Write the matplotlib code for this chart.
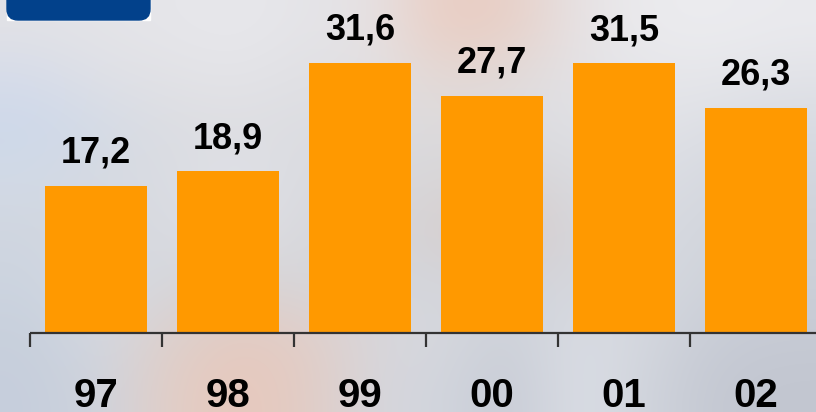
import numpy as np
import matplotlib.pyplot as plt
from matplotlib.patches import FancyBboxPatch, Rectangle
from matplotlib.colors import to_rgb

years = ['97', '98', '99', '00', '01', '02']
values = [17.2, 18.9, 31.6, 27.7, 31.5, 26.3]
value_labels = ['17,2', '18,9', '31,6', '27,7', '31,5', '26,3']

plt.rcParams['font.family'] = ['Liberation Sans', 'DejaVu Sans']

fig = plt.figure(figsize=(8.16, 4.12), dpi=100)
ax = fig.add_axes([0, 0, 1, 1])

# axis limits chosen so the plot fills the whole picture like the slide
x0, x1 = -96 / 132, (816 - 96) / 132
y0, y1 = -(412 - 333) / 8.56, 333 / 8.56
ax.set_xlim(x0, x1)
ax.set_ylim(y0, y1)
ax.axis('off')

# soft blurred background (stand-in for the photo behind the chart)
bg = [
    ['#e2e2e6', '#e4e4e8', '#e6e6ea', '#e8e8ec', '#e4e4e8', '#e6e2e4', '#eacdc2', '#e8cfc6', '#e6e2e4', '#ebebee', '#ececef', '#eaeaee'],
    ['#d6dcea', '#dfe0e6', '#e2e2e6', '#e4e4e8', '#e0e0e4', '#e2e0e2', '#e4d8d4', '#e2dad8', '#e2e2e6', '#e6e6ea', '#e6e7eb', '#e2e3e8'],
    ['#cdd8ea', '#d4dbe6', '#dcdde2', '#dedee2', '#dcdde2', '#dcdce0', '#dcdadc', '#dcdce0', '#dedfe4', '#e2e3e8', '#dcdee4', '#d8dbe2'],
    ['#d2dae6', '#d6dae2', '#dadce2', '#e0e2e8', '#dadbe0', '#d8d8dc', '#d8d6d8', '#d8d4d4', '#d8d9de', '#dcdee4', '#d6d9e0', '#d2d6de'],
    ['#d0d6e0', '#d6d8de', '#d8dae0', '#dfe0e6', '#d8d8dc', '#d6d6da', '#d6d0d0', '#dac8c4', '#d4d6dc', '#d8dbe2', '#d2d5dc', '#ced2da'],
    ['#ccd4e0', '#d8dce4', '#d4d6dc', '#d8d4d4', '#d6d6da', '#d4d6dc', '#d4d6dc', '#d2d4da', '#d4d6dc', '#d6d9e0', '#cfd3da', '#ccd0d8'],
    ['#c8d0dc', '#d4d8e0', '#ddd0cc', '#e4cac0', '#e2cec8', '#d8d6da', '#d6d8de', '#ccd0d8', '#dadde4', '#d4d7de', '#c8ccd6', '#c6cad4'],
    ['#c6cedc', '#cfd4de', '#e2cec6', '#e8c8bc', '#e2ccc4', '#d6d6dc', '#d2d6de', '#c6cad4', '#dcdfe6', '#d0d4dc', '#c4c8d2', '#c2c6d0'],
]
img = np.array([[to_rgb(c) for c in row] for row in bg])
ax.imshow(img, extent=(x0, x1, y0, y1), aspect='auto', interpolation='bicubic', zorder=0)

# bars
x = np.arange(len(years))
ax.bar(x, values, width=0.77, color='#ff9900', zorder=2)

# value labels above bars
for xi, v, lab in zip(x, values, value_labels):
    ax.text(xi, v + 2.7, lab, ha='center', va='baseline', fontsize=26,
            fontweight='bold', color='black', zorder=3)

# baseline with tick marks between categories
ax.plot([-0.5, x1], [0, 0], color='#333333', lw=1.6, zorder=3, solid_capstyle='butt')
ax.vlines(np.arange(len(years)) - 0.5, -1.64, 0, color='#333333', lw=1.6, zorder=3)

# year labels (cut by the bottom edge, as on the slide)
for xi, yr in zip(x, years):
    ax.text(xi, -8.6, yr, ha='center', va='baseline', fontsize=29,
            fontweight='bold', color='black', zorder=3)

# navy title tab in the top-left corner
ov = fig.add_axes([0, 0, 1, 1], facecolor='none')
ov.set_xlim(0, 816)
ov.set_ylim(412, 0)
ov.axis('off')
ov.add_patch(Rectangle((7, 0), 143, 20, color='white', zorder=1))
ov.add_patch(FancyBboxPatch((7, -20), 143, 40, boxstyle='round,pad=0,rounding_size=11',
                            color='#02418b', zorder=2))

plt.savefig('out.png', dpi=100)
